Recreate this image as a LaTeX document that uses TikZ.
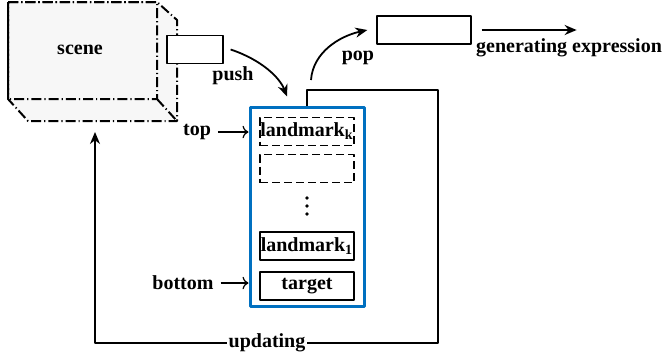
\documentclass[tikz,border=0pt]{standalone}
\usepackage{fontspec}
\setmainfont{Liberation Serif}
\usetikzlibrary{arrows.meta}
\definecolor{stackblue}{RGB}{0,112,192}
\begin{document}
\begin{tikzpicture}[x=0.5pt, y=-0.5pt, font=\bfseries, line join=round, >={Stealth[length=6pt,width=5pt]},
  box/.style={draw, line width=0.65pt, minimum width=47pt, minimum height=14pt, inner sep=0pt},
  dashbox/.style={box, dash pattern=on 4pt off 2pt},
  cubeline/.style={line width=1pt, dash pattern=on 5pt off 1.5pt on 0.6pt off 1.5pt}]
\def\sx{307}
\useasboundingbox (0,0) rectangle (665,360);
% scene cube
\draw[cubeline, fill=gray!6] (8,2) -- (157,2) -- (177,20) -- (177,121) -- (28,121) -- (8,99) -- cycle;
\draw[cubeline] (8,2) rectangle (157,99) (157,99) -- (177,121);
\node (scene) at (80,50) {scene};
% boxes
\node[box, fill=white, minimum width=28pt] (pushbox) at (195,49.5) {};
\node[box, minimum width=47pt] (popbox) at (424,30) {};
\node[draw=stackblue, line width=1.5pt, minimum width=57pt, minimum height=99.5pt] (stack) at (\sx,206.5) {};
\node[dashbox] (lmk) at (\sx,131.5) {landmark$_\mathbf{k}$};
\node[dashbox] (empty) at (\sx,168.5) {};
\foreach \y in {198,206,214} \fill (\sx,\y) circle (0.9pt);
\node[box] (lm1) at (\sx,246) {landmark$_\mathbf{1}$};
\node[box] (target) at (\sx,286) {target};
% labels
\node (push) at (233,76) {push};
\node (pop) at (358,58) {pop};
\node (gen) at (569,48) {generating expression};
\node (top) at (197,132) {top};
\node (bottom) at (183,283) {bottom};
% arrows
\draw[->, line width=0.9pt] ([xshift=3.5pt]pushbox.east) .. controls (262,60) and (280,78) .. ([xshift=-10pt,yshift=4.5pt]stack.north);
\draw[->, line width=0.9pt] (311,80) .. controls (313,52) and (340,36) .. ([xshift=-4.5pt]popbox.west);
\draw[->, line width=0.9pt] ([xshift=5pt]popbox.east) -- ++(95,0);
\draw[-{To[length=3pt]}, line width=0.6pt] (top.east) -- (top.east -| stack.west);
\draw[-{To[length=3pt]}, line width=0.6pt] (bottom.east) -- (bottom.east -| stack.west);
\draw[->, line width=1pt] (stack.north) -- (\sx,90) -- (438,90) -- (438,343) -- (95,343) -- (95,132);
\node[fill=white, inner sep=1pt] (upd) at (267,343) {updating};
\end{tikzpicture}
\end{document}
